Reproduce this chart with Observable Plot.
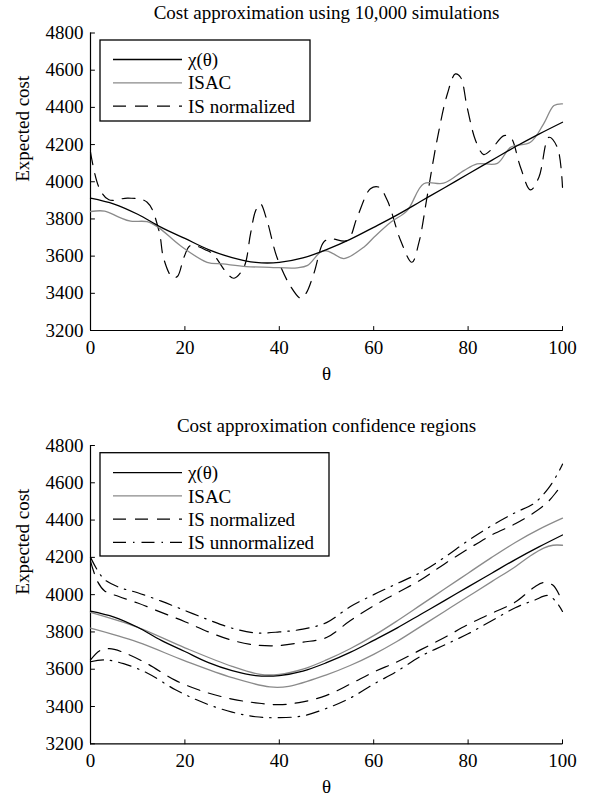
<!DOCTYPE html>
<html><head><meta charset="utf-8">
<script src="https://cdn.jsdelivr.net/npm/d3@7"></script>
<script src="https://cdn.jsdelivr.net/npm/@observablehq/plot@0.6"></script>
<style>
body{margin:0;background:#fff;}
#wrap{width:593px;height:798px;}
svg{display:block}
</style></head><body><div id="wrap"></div>
<script>
// ---------- data ----------
const xDomain = [0, 100];
const yDomain = [3200, 4800];
const xTicks = [0, 20, 40, 60, 80, 100];
const yTicks = [3200, 3400, 3600, 3800, 4000, 4200, 4400, 4600, 4800];
const titles = ["Cost approximation using 10,000 simulations", "Cost approximation confidence regions"];
const xLabel = "θ";
const yLabel = "Expected cost";
const seriesNames = ["χ(θ)", "ISAC", "IS normalized", "IS unnormalized"];

// true cost curve chi(theta)
const chiT = [0,5,10,15,20,25,30,35,40,45,50,55,60,65,70,75,80,85,90,95,100];
const chiV = [3912,3880,3825,3755,3695,3635,3592,3566,3566,3590,3635,3690,3755,3822,3895,3968,4042,4115,4188,4256,4320];

// top panel: ISAC estimate
const isacT = [0,3,6,8.5,12,14.5,19,24.7,28,33,38,43.8,46,48.7,50,51.5,53.7,57.9,60,63.6,67.1,70.6,74.8,79.1,81.9,86.2,89,93.2,96,98.2,100];
const isacV = [3840,3842,3810,3788,3785,3752,3657,3567,3558,3544,3540,3537,3550,3621,3628,3612,3587,3648,3700,3782,3845,3989,3992,4060,4096,4099,4185,4212,4311,4410,4419];

// top panel: IS normalized estimate
const isnT = [0,1.8,3.9,8,12,14.5,15.5,17.3,18.4,19.8,21.2,24.7,26,29,30.4,32.5,33.9,35,36,37.4,39.5,42.4,44.5,45.6,47.3,49.4,50.8,54.4,56.5,59.3,61.1,62.9,65.7,68.1,69.6,71.3,73.4,75.6,77.3,78.4,79.8,81.6,83.3,84.7,87.6,89,91.1,93.2,95,97.1,98.9,100];
const isnV = [4160,3970,3903,3912,3890,3737,3587,3487,3490,3594,3657,3630,3610,3505,3481,3540,3720,3845,3881,3791,3594,3437,3374,3397,3505,3675,3693,3684,3809,3962,3971,3899,3684,3567,3675,3917,4221,4472,4580,4562,4400,4221,4146,4168,4248,4239,4078,3956,4024,4239,4185,3970];

// bottom panel: confidence bounds
const isacUpT = [0,10,20,30,36,40,45,50,55,60,65,70,75,80,85,90,95,100];
const isacUpV = [3905,3825,3715,3615,3572,3572,3600,3650,3710,3780,3860,3945,4030,4115,4200,4280,4350,4410];
const isacLoT = [0,10,20,30,38,42,50,55,60,65,70,75,80,85,90,93,96,98,100];
const isacLoV = [3820,3745,3645,3555,3505,3508,3570,3620,3680,3750,3830,3910,3990,4070,4150,4205,4250,4265,4265];

const isnUpT = [0,1.5,3,6,10,15,20,25,30,35,40,45,50,55,60,65,70,75,80,85,90,94,97,99,100];
const isnUpV = [4180,4070,4020,3990,3955,3905,3855,3800,3755,3730,3727,3745,3770,3860,3940,4010,4080,4165,4245,4320,4380,4440,4500,4560,4590];
const isnLoT = [0,2,4,7,12,18,24,30,35,40,45,50,55,60,65,70,75,80,85,90,94,96,98,100];
const isnLoV = [3650,3700,3710,3690,3630,3540,3480,3440,3420,3410,3425,3460,3520,3585,3640,3705,3770,3840,3900,3960,4040,4065,4050,3960];

const isuUpT = [0,1.5,3,6,10,15,20,25,30,35,40,45,50,55,60,65,70,75,80,85,90,94,97,99,100];
const isuUpV = [4200,4130,4080,4040,4010,3965,3915,3865,3820,3795,3800,3815,3850,3935,4000,4060,4120,4200,4290,4370,4440,4490,4570,4650,4700];
const isuLoT = [0,3,7,12,18,24,30,35,40,45,50,55,60,65,70,75,80,85,90,94,97,99,100];
const isuLoV = [3640,3650,3630,3580,3490,3420,3370,3345,3340,3350,3390,3445,3520,3590,3670,3730,3790,3860,3930,3970,3995,3950,3910];

// ---------- styles ----------
const FONT = "'Liberation Serif','Times New Roman',serif";
const GRAY = "#8a8a8a";
const styles = {
  chi:  {stroke: "black", strokeWidth: 1.3},
  isac: {stroke: GRAY, strokeWidth: 1.3},
  isn:  {stroke: "black", strokeWidth: 1.2, strokeDasharray: "13,9"},
  isu:  {stroke: "black", strokeWidth: 1.2, strokeDasharray: "13,7,1.5,7"}
};

const rows = (T, V) => T.map((t, i) => ({t, v: V[i]}));
const tickShape = {draw(context, l) { context.moveTo(0, 0); context.lineTo(0, -l); }};
const fmt = d3.format("d");

function panel({title, height, marginTop, marginBottom, lines, legend}) {
  const svg = Plot.plot({
    width: 593, height, marginLeft: 90, marginRight: 31, marginTop, marginBottom,
    style: {fontFamily: FONT, fontSize: "19px", color: "black", background: "white", overflow: "visible"},
    x: {domain: xDomain, ticks: xTicks, tickSize: 0, tickPadding: 10, tickFormat: fmt, label: null},
    y: {domain: yDomain, ticks: yTicks, tickSize: 0, tickPadding: 7, tickFormat: fmt, label: null},
    marks: [
      Plot.ruleX(xDomain.slice(0, 1), {stroke: "black", strokeWidth: 1.2}),
      Plot.ruleY(yDomain.slice(0, 1), {stroke: "black", strokeWidth: 1.2}),
      Plot.vector(yTicks, {y: d => d, frameAnchor: "left", length: 4, rotate: 90, anchor: "start", shape: tickShape, stroke: "black", strokeWidth: 1}),
      Plot.vector(xTicks, {x: d => d, frameAnchor: "bottom", length: 4, rotate: 0, anchor: "start", shape: tickShape, stroke: "black", strokeWidth: 1}),
      ...lines.map(([T, V, st]) => Plot.line(rows(T, V), {x: "t", y: "v", curve: "catmull-rom", ...st})),
      Plot.text([title], {frameAnchor: "top", dy: -20, lineAnchor: "middle", fontSize: 19}),
      Plot.text([xLabel], {frameAnchor: "bottom", dy: 43, lineAnchor: "middle", fontSize: 19}),
      Plot.text([yLabel], {frameAnchor: "left", dx: -68, rotate: -90, lineAnchor: "middle", fontSize: 19})
    ]
  });
  // legend box
  const g = d3.select(svg).append("g").attr("font-family", FONT).attr("font-size", 19).attr("text-anchor", "start");
  g.append("rect").attr("x", legend.x).attr("y", legend.y).attr("width", legend.w).attr("height", legend.h)
    .attr("fill", "white").attr("stroke", "black").attr("stroke-width", 1.3);
  legend.items.forEach((it, i) => {
    const y = legend.y + legend.first + i * legend.step;
    const st = styles[it.key];
    g.append("line").attr("x1", legend.x + 13).attr("x2", legend.x + 82).attr("y1", y).attr("y2", y)
      .attr("stroke", st.stroke).attr("stroke-width", st.strokeWidth).attr("stroke-dasharray", st.strokeDasharray || null);
    g.append("text").attr("x", legend.x + 88).attr("y", y).attr("dy", "0.35em").attr("fill", "black").attr("text-anchor", "start").text(it.name);
  });
  return svg;
}

const wrap = document.getElementById("wrap");
wrap.append(panel({
  title: titles[0], height: 400, marginTop: 32.5, marginBottom: 70,
  lines: [[isnT, isnV, styles.isn], [isacT, isacV, styles.isac], [chiT, chiV, styles.chi]],
  legend: {x: 100, y: 40, w: 210, h: 81, first: 19.5, step: 23.3,
    items: [{key: "chi", name: seriesNames[0]}, {key: "isac", name: seriesNames[1]}, {key: "isn", name: seriesNames[2]}]}
}));
wrap.append(panel({
  title: titles[1], height: 398, marginTop: 45, marginBottom: 54.7,
  lines: [[isuUpT, isuUpV, styles.isu], [isuLoT, isuLoV, styles.isu],
          [isnUpT, isnUpV, styles.isn], [isnLoT, isnLoV, styles.isn],
          [isacUpT, isacUpV, styles.isac], [isacLoT, isacLoV, styles.isac],
          [chiT, chiV, styles.chi]],
  legend: {x: 100, y: 52.7, w: 229, h: 103.3, first: 20, step: 23.2,
    items: [{key: "chi", name: seriesNames[0]}, {key: "isac", name: seriesNames[1]}, {key: "isn", name: seriesNames[2]}, {key: "isu", name: seriesNames[3]}]}
}));
</script></body></html>
